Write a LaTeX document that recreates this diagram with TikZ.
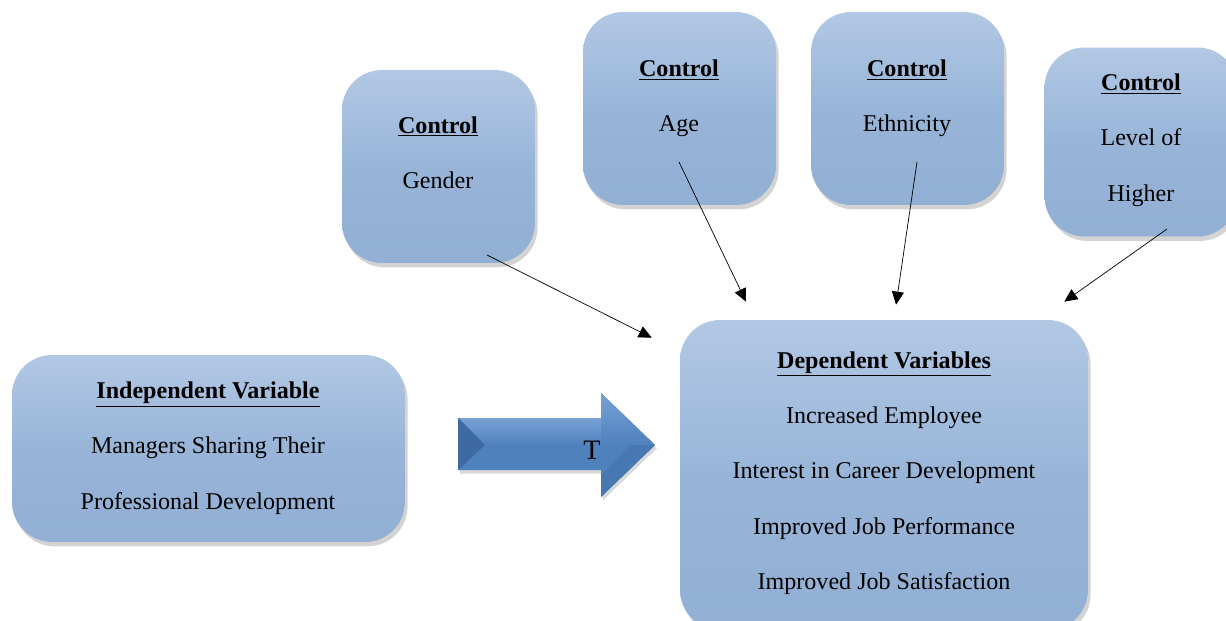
\documentclass[tikz,border=0pt]{standalone}
\usepackage{fontspec}
\setmainfont{Liberation Serif}
\usepackage{tikz}
\usetikzlibrary{arrows.meta,shadows}
\definecolor{boxtop}{RGB}{178,200,228}
\definecolor{boxmid}{RGB}{152,181,216}
\definecolor{boxbot}{RGB}{146,175,212}
\definecolor{arrlight}{RGB}{120,162,214}
\definecolor{arrmid}{RGB}{79,129,189}
\definecolor{arrdark}{RGB}{62,106,163}

\begin{document}
\begin{tikzpicture}[x=0.02cm, y=-0.02cm,
  box/.style = {draw=none, rounded corners=0.8cm, top color=boxtop, bottom color=boxbot, middle color=boxmid,
                drop shadow={shadow xshift=1.5pt, shadow yshift=-2.5pt, opacity=0.35}},
  txt/.style = {align=center, font=\fontsize{13.7}{31.5}\selectfont},
  link/.style = {-{Triangle[length=2.6mm,width=2.4mm]}, thin}]
\useasboundingbox (0,0) rectangle (1226,621);
\node[box, minimum width=3.86cm, minimum height=3.86cm] (1) at (438.5,166.5) {};
\node[box, minimum width=3.86cm, minimum height=3.86cm] (2) at (679.5,108.5) {};
\node[box, minimum width=3.86cm, minimum height=3.86cm] (3) at (907.5,108.5) {};
\node[box, minimum width=3.86cm, minimum height=3.78cm] (4) at (1141,142) {};
\node[box, minimum width=7.86cm, minimum height=3.74cm] (5) at (208.5,448.5) {};
\node[box, minimum width=8.16cm, minimum height=6.2cm] (6) at (884,475) {};
\fill[arrmid, drop shadow={shadow xshift=1pt, shadow yshift=-2pt, opacity=0.3}]
  (458,418) -- (601,418) -- (601,393) -- (655,445) -- (601,497) -- (601,470) -- (458,470) -- cycle;
\shade[top color=arrlight, bottom color=arrmid] (458,418) -- (601,418) -- (601,445) -- (485,445) -- cycle;
\shade[top color=arrlight, bottom color=arrmid] (601,393) -- (655,445) -- (601,445) -- cycle;
\fill[arrdark] (458,418) -- (485,445) -- (458,470) -- cycle;
\fill[arrdark!40!arrmid] (601,497) -- (655,445) -- (630,445) -- (601,475) -- cycle;
\node[txt] (1t) at (438,152.5) {\underline{\textbf{Control}}\\Gender};
\node[txt] (2t) at (679,98.5) {\underline{\textbf{Control}}\\Age};
\node[txt] (3t) at (907,98.5) {\underline{\textbf{Control}}\\Ethnicity};
\node[txt] (4t) at (1141,140) {\underline{\textbf{Control}}\\Level of\\Higher};
\node[txt] (5t) at (208,448) {\underline{\textbf{Independent Variable}}\\Managers Sharing Their\\Professional Development};
\node[txt] (6t) at (884,473) {\underline{\textbf{Dependent Variables}}\\Increased Employee\\Interest in Career Development\\Improved Job Performance\\Improved Job Satisfaction};
\node[font=\fontsize{16}{18}\selectfont] (7t) at (592,450) {T};
\coordinate (1s) at ([shift={(48.5,88.5)}]1.center);
\coordinate (2s) at ([shift={(-0.5,53.5)}]2.center);
\coordinate (3s) at ([shift={(9.5,53.5)}]3.center);
\coordinate (4s) at ([shift={(26,87)}]4.center);
\coordinate (1e) at ([shift={(-28,18)}]6.north west);
\coordinate (2e) at ([shift={(-138,-18)}]6.north);
\coordinate (3e) at ([shift={(12,-15)}]6.north);
\coordinate (4e) at ([shift={(-24,-18)}]6.north east);
\draw[link] (1s) -- (1e);
\draw[link] (2s) -- (2e);
\draw[link] (3s) -- (3e);
\draw[link] (4s) -- (4e);
\end{tikzpicture}
\end{document}
